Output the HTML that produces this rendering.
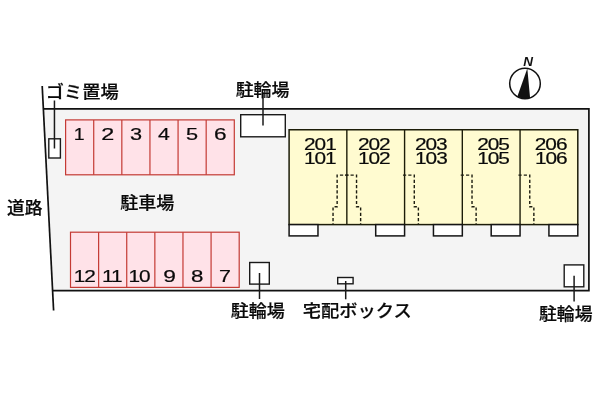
<!DOCTYPE html>
<html lang="ja"><head><meta charset="utf-8"><title>配置図</title>
<style>html,body{margin:0;padding:0;background:#fff}svg{display:block;will-change:transform}.j{font-family:"Liberation Sans","Noto Sans CJK JP",sans-serif;font-size:17.6px;font-weight:500;fill:#0a0a0a;stroke:#0a0a0a;stroke-width:0.2px}.n{font-family:"Liberation Sans",sans-serif;font-size:16.3px;fill:#0a0a0a;stroke:#0a0a0a;stroke-width:0.2px}.N{font-family:"Liberation Sans",sans-serif;font-size:13.2px;font-weight:bold;font-style:italic;fill:#111}</style></head><body>
<svg width="600" height="400" viewBox="0 0 600 400">
<rect width="600" height="400" fill="#fff"/>
<polygon points="43.4,108.9 588.9,108.9 588.9,290.7 52.6,290.7" fill="#f4f4f4"/>
<polyline points="43.4,108.9 588.9,108.9 588.9,290.7 52.6,290.7" fill="none" stroke="#111" stroke-width="1.7"/>
<line x1="42.2" y1="86" x2="53.6" y2="310.5" stroke="#111" stroke-width="1.7"/>
<rect x="65.6" y="119.9" width="168.70" height="54.90" fill="#ffe2e8" stroke="#c43a34" stroke-width="1.2"/>
<line x1="93.72" y1="119.9" x2="93.72" y2="174.8" stroke="#c43a34" stroke-width="1.2"/>
<line x1="121.83" y1="119.9" x2="121.83" y2="174.8" stroke="#c43a34" stroke-width="1.2"/>
<line x1="149.95" y1="119.9" x2="149.95" y2="174.8" stroke="#c43a34" stroke-width="1.2"/>
<line x1="178.07" y1="119.9" x2="178.07" y2="174.8" stroke="#c43a34" stroke-width="1.2"/>
<line x1="206.18" y1="119.9" x2="206.18" y2="174.8" stroke="#c43a34" stroke-width="1.2"/>
<rect x="70.5" y="232.2" width="168.70" height="55.20" fill="#ffe2e8" stroke="#c43a34" stroke-width="1.2"/>
<line x1="98.62" y1="232.2" x2="98.62" y2="287.4" stroke="#c43a34" stroke-width="1.2"/>
<line x1="126.73" y1="232.2" x2="126.73" y2="287.4" stroke="#c43a34" stroke-width="1.2"/>
<line x1="154.85" y1="232.2" x2="154.85" y2="287.4" stroke="#c43a34" stroke-width="1.2"/>
<line x1="182.97" y1="232.2" x2="182.97" y2="287.4" stroke="#c43a34" stroke-width="1.2"/>
<line x1="211.08" y1="232.2" x2="211.08" y2="287.4" stroke="#c43a34" stroke-width="1.2"/>
<rect x="289.1" y="129.75" width="288.70" height="94.85" fill="#fffbd0" stroke="#1c1c08" stroke-width="1.5"/>
<line x1="346.84" y1="129.75" x2="346.84" y2="224.6" stroke="#1c1c08" stroke-width="1.4"/>
<line x1="404.58" y1="129.75" x2="404.58" y2="224.6" stroke="#1c1c08" stroke-width="1.4"/>
<line x1="462.32" y1="129.75" x2="462.32" y2="224.6" stroke="#1c1c08" stroke-width="1.4"/>
<line x1="520.06" y1="129.75" x2="520.06" y2="224.6" stroke="#1c1c08" stroke-width="1.4"/>
<rect x="289.10" y="224.6" width="28.87" height="11.3" fill="#fff" stroke="#151515" stroke-width="1.5"/>
<rect x="375.71" y="224.6" width="28.87" height="11.3" fill="#fff" stroke="#151515" stroke-width="1.5"/>
<rect x="433.45" y="224.6" width="28.87" height="11.3" fill="#fff" stroke="#151515" stroke-width="1.5"/>
<rect x="491.19" y="224.6" width="28.87" height="11.3" fill="#fff" stroke="#151515" stroke-width="1.5"/>
<rect x="548.93" y="224.6" width="28.87" height="11.3" fill="#fff" stroke="#151515" stroke-width="1.5"/>
<path d="M348.44,175.1 H337.14 V206.8 H333.04 V224.6" fill="none" stroke="#1c1c10" stroke-width="1.4" stroke-dasharray="3.2,2.1"/>
<path d="M345.24,175.1 H356.54 V206.8 H360.64 V224.6" fill="none" stroke="#1c1c10" stroke-width="1.4" stroke-dasharray="3.2,2.1"/>
<path d="M402.98,175.1 H414.28 V206.8 H418.38 V224.6" fill="none" stroke="#1c1c10" stroke-width="1.4" stroke-dasharray="3.2,2.1"/>
<path d="M460.72,175.1 H472.02 V206.8 H476.12 V224.6" fill="none" stroke="#1c1c10" stroke-width="1.4" stroke-dasharray="3.2,2.1"/>
<path d="M518.46,175.1 H529.76 V206.8 H533.86 V224.6" fill="none" stroke="#1c1c10" stroke-width="1.4" stroke-dasharray="3.2,2.1"/>
<rect x="48.8" y="138.8" width="11.60" height="19.20" fill="#fff" stroke="#1a1a1a" stroke-width="1.4"/>
<rect x="240.7" y="114.7" width="44.60" height="22.10" fill="#fff" stroke="#1a1a1a" stroke-width="1.4"/>
<rect x="249.7" y="262.5" width="19.60" height="21.60" fill="#fff" stroke="#1a1a1a" stroke-width="1.4"/>
<rect x="337.7" y="277.5" width="15.40" height="6.30" fill="#fff" stroke="#1a1a1a" stroke-width="1.4"/>
<rect x="564.2" y="264.9" width="19.60" height="21.90" fill="#fff" stroke="#1a1a1a" stroke-width="1.4"/>
<line x1="54.45" y1="100.5" x2="54.45" y2="148.5" stroke="#1a1a1a" stroke-width="1.5"/>
<line x1="263" y1="92.5" x2="263" y2="125.5" stroke="#1a1a1a" stroke-width="1.5"/>
<line x1="259.5" y1="273" x2="259.5" y2="299" stroke="#1a1a1a" stroke-width="1.5"/>
<line x1="345.7" y1="281" x2="345.7" y2="299.3" stroke="#1a1a1a" stroke-width="1.5"/>
<line x1="574.1" y1="275.8" x2="574.1" y2="301.5" stroke="#1a1a1a" stroke-width="1.5"/>
<circle cx="525" cy="83.5" r="15.3" fill="#fff" stroke="#111" stroke-width="1.5"/>
<path d="M527.3,68.6 L517.4,96.6 A15.3,15.3 0 0 0 530.1,97.9 Z" fill="#111"/>
<text class="j" transform="translate(45.75,97.7) scale(1.037,1)">ゴミ置場</text>
<text class="j" transform="translate(235.65,96.1) scale(1.022,1)">駐輪場</text>
<text class="j" transform="translate(7.00,214.0) scale(1.007,1)">道路</text>
<text class="j" transform="translate(120.15,208.9) scale(1.027,1)">駐車場</text>
<text class="j" transform="translate(230.65,316.8) scale(1.025,1)">駐輪場</text>
<text class="j" transform="translate(302.85,316.8) scale(1.038,1)">宅配ボックス</text>
<text class="j" transform="translate(538.95,319.8) scale(1.015,1)">駐輪場</text>
<text class="n" transform="translate(73.70,139.8) scale(1.200,1)">1</text>
<text class="n" transform="translate(101.25,139.8) scale(1.434,1)">2</text>
<text class="n" transform="translate(130.00,139.8) scale(1.333,1)">3</text>
<text class="n" transform="translate(158.10,139.8) scale(1.305,1)">4</text>
<text class="n" transform="translate(186.00,139.8) scale(1.334,1)">5</text>
<text class="n" transform="translate(214.00,139.8) scale(1.388,1)">6</text>
<text class="n" transform="translate(73.85,281.5) scale(1.280,1)" letter-spacing="-0.85">12</text>
<text class="n" transform="translate(102.10,281.5) scale(1.280,1)" letter-spacing="-0.85">11</text>
<text class="n" transform="translate(128.60,281.5) scale(1.280,1)" letter-spacing="-0.85">10</text>
<text class="n" transform="translate(163.25,281.5) scale(1.400,1)">9</text>
<text class="n" transform="translate(191.00,281.5) scale(1.367,1)">8</text>
<text class="n" transform="translate(219.10,281.5) scale(1.314,1)">7</text>
<text class="n" transform="translate(304.10,149.8) scale(1.280,1)" letter-spacing="-0.85">201</text>
<text class="n" transform="translate(303.90,163.6) scale(1.280,1)" letter-spacing="-0.85">101</text>
<text class="n" transform="translate(357.95,149.8) scale(1.280,1)" letter-spacing="-0.85">202</text>
<text class="n" transform="translate(357.90,163.6) scale(1.280,1)" letter-spacing="-0.85">102</text>
<text class="n" transform="translate(415.00,149.8) scale(1.280,1)" letter-spacing="-0.85">203</text>
<text class="n" transform="translate(415.10,163.6) scale(1.280,1)" letter-spacing="-0.85">103</text>
<text class="n" transform="translate(477.25,149.8) scale(1.280,1)" letter-spacing="-0.85">205</text>
<text class="n" transform="translate(477.30,163.6) scale(1.280,1)" letter-spacing="-0.85">105</text>
<text class="n" transform="translate(534.85,149.8) scale(1.280,1)" letter-spacing="-0.85">206</text>
<text class="n" transform="translate(534.95,163.6) scale(1.280,1)" letter-spacing="-0.85">106</text>
<text class="N" transform="translate(523.25,66.1) scale(1.022,1)">N</text>
</svg></body></html>
